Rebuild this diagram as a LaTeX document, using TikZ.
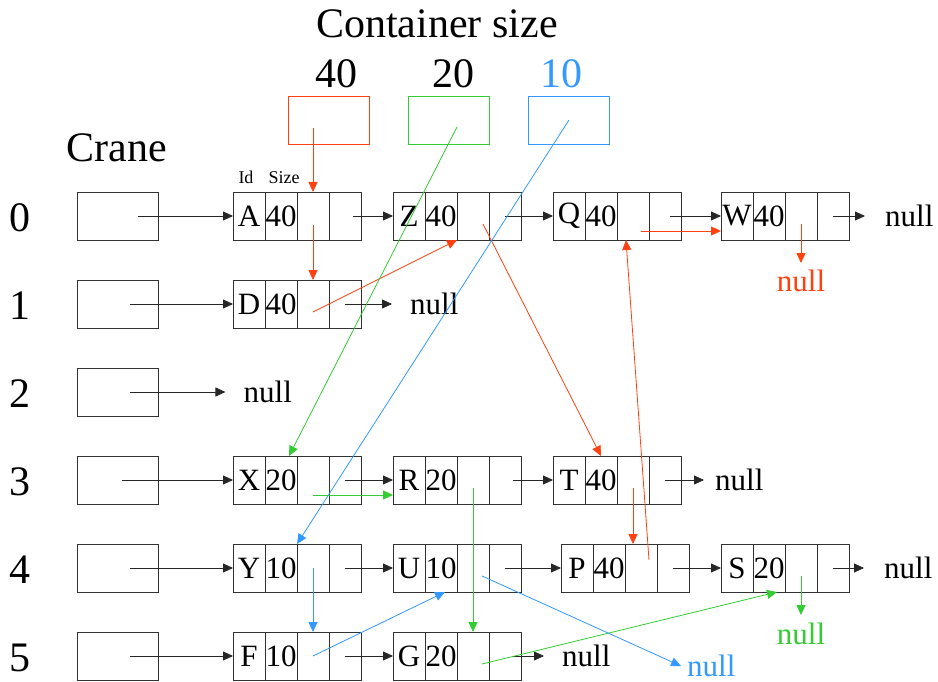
\documentclass[tikz,border=0pt]{standalone}
\usepackage{fontspec}
\setmainfont{Liberation Serif}
\usetikzlibrary{arrows.meta, positioning, calc}
\definecolor{cred}{RGB}{255,64,16}
\definecolor{cgreen}{RGB}{51,204,51}
\definecolor{cblue}{RGB}{51,153,255}

% one list element: id, size, pointer and next cells
\newcommand{\listnode}[4]{%
  \node[cell, anchor=west] (#1id) at (#4) {#2};
  \node[cell, right=0pt of #1id] (#1sz) {#3};
  \node[cell, right=0pt of #1sz] (#1p) {};
  \node[cell, right=0pt of #1p] (#1n) {};
}

\begin{document}
\begin{tikzpicture}[x=1pt, y=-1pt,
    cell/.style={rectangle, draw=black!80, line width=0.9pt, minimum width=32pt,
        minimum height=48pt, inner sep=0pt, outer sep=0pt,
        font=\fontsize{31}{36}\selectfont},
    crane/.style={rectangle, draw=black!80, line width=0.9pt, minimum width=81pt,
        minimum height=48pt, inner sep=0pt},
    cont/.style={rectangle, line width=0.9pt, minimum width=81pt,
        minimum height=48pt, inner sep=0pt},
    lbl/.style={font=\fontsize{42}{48}\selectfont, inner sep=0pt},
    nul/.style={font=\fontsize{31}{36}\selectfont, inner sep=0pt},
    tag/.style={font=\fontsize{18}{20}\selectfont, inner sep=0pt},
    a/.style={-{Triangle[length=10pt,width=9pt]}, line width=0.8pt, black!85},
    ar/.style={a, cred},
    ag/.style={a, cgreen},
    ab/.style={a, cblue}
]
\useasboundingbox (0,0) rectangle (938,682);

% ===== HEADINGS =====
\node[lbl] (title) at (437,24) {Container size};
\node[lbl] (cr) at (117,148) {Crane};
\node[cont, draw=cred] (c40) at (328.5,120) {};
\node[cont, draw=cgreen] (c20) at (449,120) {};
\node[cont, draw=cblue] (c10) at (569,120) {};
\node[lbl] (l40) at (336,74) {40};
\node[lbl] (l20) at (453,74) {20};
\node[lbl, text=cblue] (l10) at (561,74) {10};

% ===== CRANES =====
\foreach \r/\y in {0/216,1/304,2/392,3/480,4/568,5/656} {
  \node[lbl] (r\r) at (20,\y+2) {\r};
  \node[crane] (c\r) at (117.5,\y) {};
}

% ===== LISTS =====
\listnode{A}{A}{40}{233,216}
\listnode{Z}{Z}{40}{393,216}
\listnode{Q}{Q}{40}{553,216}
\listnode{W}{W}{40}{721,216}
\listnode{D}{D}{40}{233,304}
\listnode{X}{X}{20}{233,480}
\listnode{R}{R}{20}{393,480}
\listnode{T}{T}{40}{553,480}
\listnode{Y}{Y}{10}{233,568}
\listnode{U}{U}{10}{393,568}
\listnode{P}{P}{40}{561,568}
\listnode{S}{S}{20}{721,568}
\listnode{F}{F}{10}{233,656}
\listnode{G}{G}{20}{393,656}
\node[tag, above=8pt of Aid, xshift=-3pt] (tid) {Id};
\node[tag, above=8pt of Asz, xshift=3pt] (tsz) {Size};

% ===== NULLS =====
\node[nul, right=85pt of c2] (n2) {null};
\node[nul, right=49pt of Dn] (Dnull) {null};
\node[nul, right=36pt of Wn] (Wnull) {null};
\node[nul, right=34pt of Tn] (Tnull) {null};
\node[nul, right=35pt of Sn] (Snull) {null};
\node[nul, right=41pt of Gn] (Gnull) {null};
\node[nul, text=cred, below=30pt of Wp] (Wrnull) {null};
\node[nul, text=cgreen, below=31pt of Sp] (Sgnull) {null};
\node[nul, text=cblue, anchor=west] (Bnull) at (687,666) {null};

% ===== BLACK LINKS =====
\draw[a] ([xshift=20pt]c0.center) -- (Aid.west);
\draw[a] ([xshift=12pt]c1.center) -- (Did.west);
\draw[a] ([xshift=12pt]c2.center) -- ([xshift=-18pt]n2.west);
\draw[a] ([xshift=4pt]c3.center) -- (Xid.west);
\draw[a] ([xshift=12pt]c4.center) -- (Yid.west);
\draw[a] ([xshift=12pt]c5.center) -- (Fid.west);
\draw[a] ([xshift=8pt]An.center) -- (Zid.west);
\draw[a] (Zn.center) -- (Qid.west);
\draw[a] ([xshift=5pt]Qn.center) -- (Wid.west);
\draw[a] (Wn.center) -- ([xshift=-20pt]Wnull.west);
\draw[a] (Dn.center) -- ([xshift=-18pt]Dnull.west);
\draw[a] (Xn.center) -- (Rid.west);
\draw[a] ([xshift=8pt]Rn.center) -- (Tid.west);
\draw[a] (Tn.center) -- ([xshift=-11pt]Tnull.west);
\draw[a] (Yn.center) -- (Uid.west);
\draw[a] (Un.center) -- (Pid.west);
\draw[a] (Pn.center) -- (Sid.west);
\draw[a] (Sn.center) -- ([xshift=-20pt]Snull.west);
\draw[a] (Fn.center) -- (Gid.west);
\draw[a] ([xshift=8pt]Gn.center) -- ([xshift=-18pt]Gnull.west);

% ===== 40 CHAIN (red) =====
\draw[ar] ($(Ap |- c40.center)+(0,8)$) -- (Ap.north);
\draw[ar] ($(Ap.center)+(0,9)$) -- (Dp.north);
\draw[ar] ($(Dp.center)+(0,8)$) -- (Zsz.south east);
\draw[ar] ($(Zp.center)+(10,8)$) -- (Tsz.north);
\draw[ar] ($(Tp.center)+(0,8)$) -- (Tp.center |- Pp.north);
\draw[ar] ($(Pp.center)+(8,-8)$) -- ($(Qp.south)+(-7,0)$);
\draw[ar] ($(Qp.center)+(8,15)$) -- ($(Wid.west)+(0,15)$);
\draw[ar] ($(Wp.center)+(0,8)$) -- ([yshift=7pt]Wrnull.north);

% ===== 20 CHAIN (green) =====
\draw[ag] ($(c20.center)+(8,7)$) -- ($(Xsz.north)+(8,0)$);
\draw[ag] ($(Xp.center)+(0,15)$) -- ($(Rid.west)+(0,15)$);
\draw[ag] ($(Rp.center)+(0,8)$) -- (Gp.north);
\draw[ag] ($(Gp.center)+(9,8)$) -- ($(Ssz.south)+(8,0)$);
\draw[ag] ($(Sp.center)+(0,8)$) -- ([yshift=8pt]Sgnull.north);

% ===== 10 CHAIN (blue) =====
\draw[ab] (c10.center) -- (Yp.north west);
\draw[ab] (Yp.center) -- (Fp.north);
\draw[ab] (Fp.center) -- ($(Usz.south)+(4,0)$);
\draw[ab] ($(Up.center)+(9,8)$) -- ([xshift=-6pt]Bnull.west);
\end{tikzpicture}
\end{document}
